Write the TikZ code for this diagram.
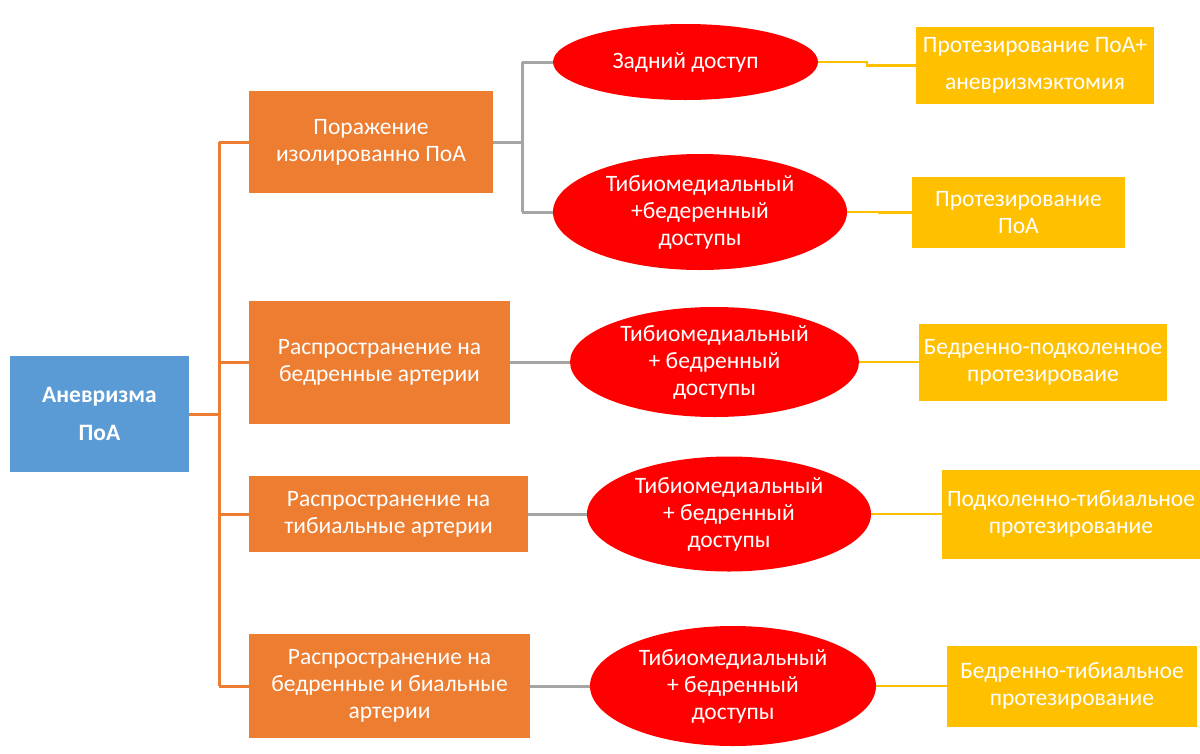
\documentclass[tikz,border=0pt]{standalone}
\usepackage{fontspec}
\setmainfont{Carlito}
\usetikzlibrary{calc,shapes.geometric}

\begin{document}
\begin{tikzpicture}[x=1pt, y=-1pt,
    every node/.style={text=white, align=center, inner sep=0pt, font=\fontsize{23.5}{27}\selectfont},
    rootbox/.style={fill=rootblue, minimum width=179pt, minimum height=116pt, font=\fontsize{23.5}{38}\selectfont\bfseries},
    lesion/.style={fill=lesionorange},
    access/.style={ellipse, fill=accessred},
    repair/.style={fill=repairyellow},
    oline/.style={draw=lesionorange, line width=3pt},
    gline/.style={draw=linegray, line width=3pt},
    yline/.style={draw=repairyellow, line width=2.6pt},
    jog/.style={to path={-| ($(\tikztostart)!0.5!(\tikztotarget)$) |- (\tikztotarget)}}
]
\definecolor{rootblue}{HTML}{5B9BD5}
\definecolor{lesionorange}{HTML}{ED7D31}
\definecolor{accessred}{HTML}{FF0000}
\definecolor{repairyellow}{HTML}{FFC000}
\definecolor{linegray}{HTML}{A5A5A5}
\useasboundingbox (0, 0) rectangle (1200, 753);

\node[rootbox] (root) at (99.5, 414) {Аневризма\\ПоА};

\node[lesion, minimum width=244pt, minimum height=102pt] (b1) at (371, 142) {Поражение\\изолированно ПоА};
\node[lesion, minimum width=261pt, minimum height=123pt] (b2) at (379.5, 362) {Распространение на\\бедренные артерии};
\node[lesion, minimum width=279pt, minimum height=76pt] (b3) at (388.5, 514) {Распространение на\\тибиальные артерии};
\node[lesion, minimum width=281pt, minimum height=104pt] (b4) at (389.5, 686) {Распространение на\\бедренные и биальные\\артерии};

\node[access, minimum width=265pt, minimum height=76pt] (e1) at (685.5, 62) {Задний доступ};
\node[access, minimum width=294pt, minimum height=116pt] (e2) at (700, 212) {Тибиомедиальный\\+бедеренный\\доступы};
\node[access, minimum width=289pt, minimum height=110pt] (e3) at (714.5, 362) {Тибиомедиальный\\+ бедренный\\доступы};
\node[access, minimum width=284pt, minimum height=115pt] (e4) at (729, 514) {Тибиомедиальный\\+ бедренный\\доступы};
\node[access, minimum width=286pt, minimum height=120pt] (e5) at (733, 686) {Тибиомедиальный\\+ бедренный\\доступы};

\node[repair, minimum width=238pt, minimum height=77pt, font=\fontsize{23.5}{37}\selectfont] (y1) at (1035, 65.5) {Протезирование ПоА+\\аневризмэктомия};
\node[repair, minimum width=213pt, minimum height=71pt] (y2) at (1018.5, 212.5) {Протезирование\\ПоА};
\node[repair, minimum width=248pt, minimum height=77pt] (y3) at (1043, 362) {Бедренно-подколенное\\протезироваие};
\node[repair, minimum width=258pt, minimum height=89pt] (y4) at (1071, 514) {Подколенно-тибиальное\\протезирование};
\node[repair, minimum width=250pt, minimum height=81pt] (y5) at (1072, 686) {Бедренно-тибиальное\\протезирование};

% root to lesions
\coordinate (trunk) at (219, 414);
\draw[oline] (root.east) -- (trunk);
\draw[oline] (trunk |- b1.west) -- (trunk |- b4.west);
\draw[oline]
    (trunk |- b1.west) edge (b1.west)
    (trunk |- b2.west) edge (b2.west)
    (trunk |- b3.west) edge (b3.west)
    (trunk |- b4.west) edge (b4.west);

% lesions to access
\coordinate (fork) at (522, 142);
\draw[gline] (b1.east) -- (fork);
\draw[gline] (fork |- e1.west) -- (fork |- e2.west);
\draw[gline]
    (fork |- e1.west) edge (e1.west)
    (fork |- e2.west) edge (e2.west)
    (b2.east) edge (e3.west)
    (b3.east) edge (e4.west)
    (b4.east) edge (e5.west);

% access to repair
\draw[yline]
    (e1.east) edge[jog] (y1.west)
    (e2.east) edge[jog] (y2.west)
    (e3.east) edge (y3.west)
    (e4.east) edge (y4.west)
    (e5.east) edge (y5.west);
\end{tikzpicture}
\end{document}
